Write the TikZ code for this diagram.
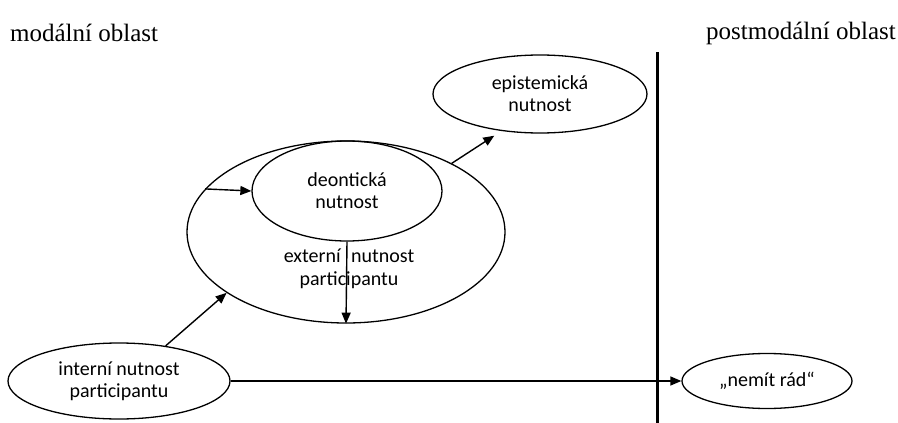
\documentclass[tikz,border=0pt]{standalone}
\usepackage{fontspec}
\setmainfont{Liberation Serif}
\newfontfamily\carlito{Carlito}
\usetikzlibrary{arrows.meta,shapes.geometric}

\begin{document}
\begin{tikzpicture}[x=1pt,y=-1pt]
 \tikzstyle{every node}=[]
 \tikzstyle{oval}=[draw,ellipse,inner sep=0pt,align=center,line width=1.3pt,
   font=\carlito\fontsize{20}{22}\selectfont]
 \tikzstyle{word}=[inner sep=0pt,align=center,font=\carlito\fontsize{20}{23}\selectfont]
 \tikzstyle{head}=[inner sep=0pt,font=\fontsize{25}{30}\selectfont]
 \tikzstyle{arr}=[draw,line width=1.4pt,-{Triangle[length=11pt,width=9pt]}]
 \useasboundingbox (0,0) rectangle (898,423);
 % headings
 \node[head,anchor=west] (modal) at (10,33) {modální oblast};
 \node[head,anchor=east] (postmodal) at (896,33) {postmodální oblast};
 % border between the two areas
 \coordinate (top) at (657,52);
 \coordinate (bottom) at (657,423);
 \draw[line width=3pt] (top) -- (bottom);
 % ellipses
 \node[oval,minimum width=318,minimum height=182] (ext) at (346,232) {};
 \node[oval,minimum width=190,minimum height=100] (deo) at (347,191) {deontická\\nutnost};
 \node[word] (extlabel) at (349,269) {externí\hspace{6pt} nutnost\\participantu};
 \node[oval,minimum width=214,minimum height=78] (epi) at (540,94) {epistemická\\nutnost};
 \node[oval,minimum width=222,minimum height=76] (int) at (119,381) {interní nutnost\\participantu};
 \node[oval,minimum width=170,minimum height=55] (nemit) at (767,381) {„nemít rád“};
 % arrows
 \path
 (ext.163) edge[arr] (deo.west)
 (deo.south) edge[arr] (ext.south)
 (ext.33) edge[arr] ([shift={(-5,5)}]epi.222)
 (int.37) edge[arr] (ext.207)
 (int.east) edge[arr] (nemit.west)
 ;
\end{tikzpicture}
\end{document}
